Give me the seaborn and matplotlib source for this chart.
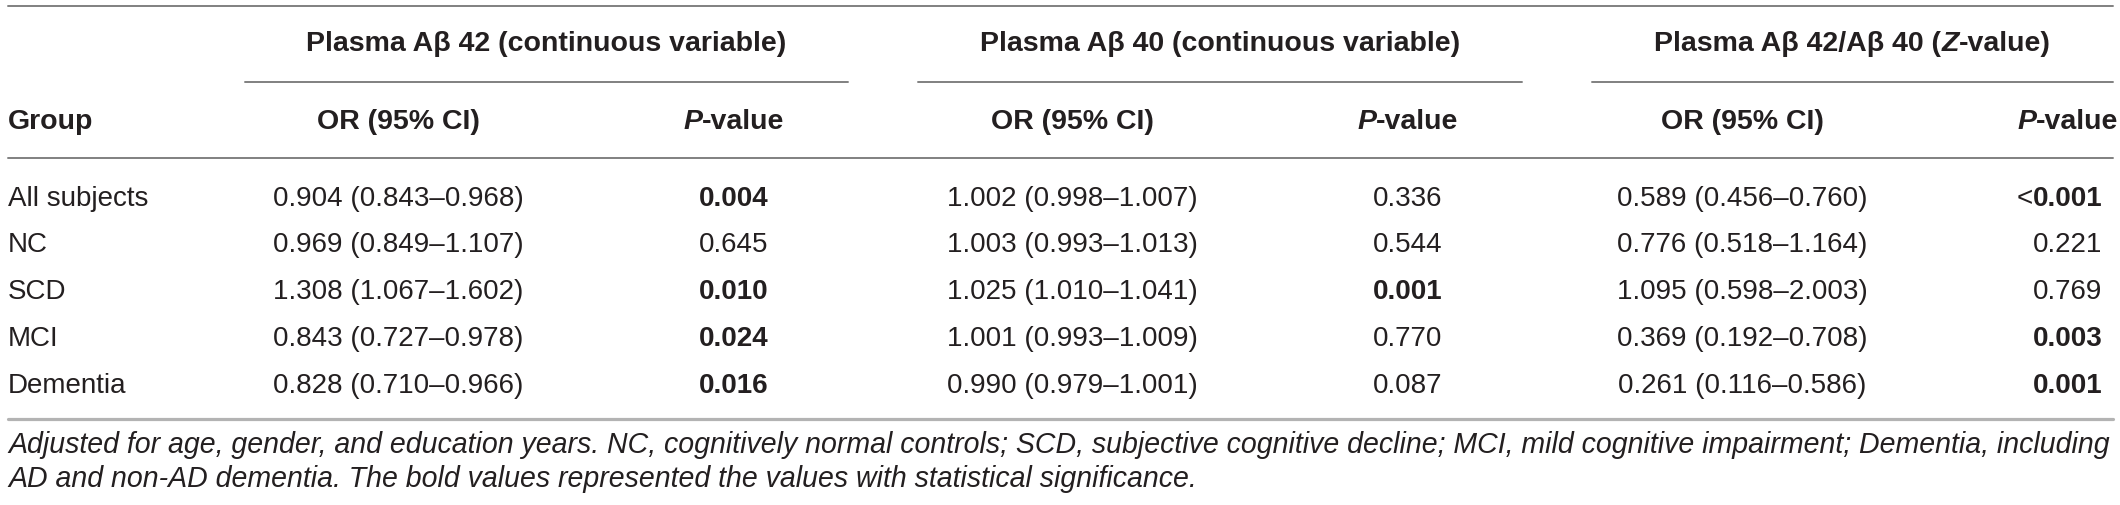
import matplotlib
matplotlib.use("Agg")
import matplotlib.pyplot as plt
import seaborn as sns

# table content
groups = ["All subjects", "NC", "SCD", "MCI", "Dementia"]
ab42_or = ["0.904 (0.843–0.968)", "0.969 (0.849–1.107)", "1.308 (1.067–1.602)",
           "0.843 (0.727–0.978)", "0.828 (0.710–0.966)"]
ab42_p = ["0.004", "0.645", "0.010", "0.024", "0.016"]
ab40_or = ["1.002 (0.998–1.007)", "1.003 (0.993–1.013)", "1.025 (1.010–1.041)",
           "1.001 (0.993–1.009)", "0.990 (0.979–1.001)"]
ab40_p = ["0.336", "0.544", "0.001", "0.770", "0.087"]
ratio_or = ["0.589 (0.456–0.760)", "0.776 (0.518–1.164)", "1.095 (0.598–2.003)",
            "0.369 (0.192–0.708)", "0.261 (0.116–0.586)"]
ratio_p = ["<0.001", "0.221", "0.769", "0.003", "0.001"]

block_titles = [
    [("Plasma Aβ 42 (continuous variable)", "bold", "normal")],
    [("Plasma Aβ 40 (continuous variable)", "bold", "normal")],
    [("Plasma Aβ 42/Aβ 40 (", "bold", "normal"), ("Z", "bold", "italic"),
     ("-value)", "bold", "normal")],
]
footnote = [
    "Adjusted for age, gender, and education years. NC, cognitively normal controls; "
    "SCD, subjective cognitive decline; MCI, mild cognitive impairment; Dementia, including",
    "AD and non-AD dementia. The bold values represented the values with statistical significance.",
]
alpha = 0.05

sns.set_theme(style="white")
plt.rcParams["font.family"] = ["Liberation Sans", "DejaVu Sans"]

TXT = "#231f20"
W, H = 2120, 505
fig = plt.figure(figsize=(W / 100, H / 100), dpi=100)
ax = fig.add_axes([0, 0, 1, 1])
ax.set_xlim(0, W)
ax.set_ylim(H, 0)
ax.axis("off")
renderer = fig.canvas.get_renderer()


def rich_text(x, y, pieces, size, ha="center"):
    """Draw mixed bold/italic pieces side by side, centred (or left) on x."""
    arts, widths = [], []
    for s, w, st in pieces:
        t = ax.text(0, y, s, fontsize=size, fontweight=w, fontstyle=st,
                    va="baseline", ha="left", color=TXT)
        arts.append(t)
        widths.append(t.get_window_extent(renderer=renderer).width)
    total = sum(widths)
    x0 = x - total / 2 if ha == "center" else x
    for t, w in zip(arts, widths):
        t.set_x(x0)
        x0 += w
    return arts


left, right = 8, 2113
or_x = [398, 1072, 1742]
p_x = [734, 1408, 2068]
spans = [(245, 848), (918, 1522), (1592, 2113)]
y_title, y_sub, y_head, y_headline = 51, 82, 129, 158
row_y = [206, 252, 299, 346, 393]
y_bottom = 419
foot_y = [453, 487]
HS, BS = 20.5, 20

# rules
ax.plot([left, right], [6, 6], color="#808080", lw=1.4)
ax.plot([left, right], [y_headline, y_headline], color="#808080", lw=1.4)
ax.plot([left, right], [y_bottom, y_bottom], color="#b3b3b3", lw=2.3)
for a, b in spans:
    ax.plot([a, b], [y_sub, y_sub], color="#808080", lw=1.4)

# headers
for (a, b), pieces in zip(spans, block_titles):
    rich_text((a + b) / 2, y_title, pieces, HS)
ax.text(left, y_head, "Group", fontsize=HS, fontweight="bold", va="baseline",
        ha="left", color=TXT)
for xo, xp in zip(or_x, p_x):
    rich_text(xo, y_head, [("OR (95% CI)", "bold", "normal")], HS)
    rich_text(xp, y_head, [("P", "bold", "italic"), ("-value", "bold", "normal")], HS)

# body
cols = [(ab42_or, ab42_p), (ab40_or, ab40_p), (ratio_or, ratio_p)]
for i, g in enumerate(groups):
    y = row_y[i]
    ax.text(left, y, g, fontsize=BS, va="baseline", ha="left", color=TXT)
    for (ors, ps), xo, xp in zip(cols, or_x, p_x):
        ax.text(xo, y, ors[i], fontsize=BS, va="baseline", ha="center", color=TXT)
        p = ps[i]
        sig = float(p.lstrip("<")) < alpha
        if p.startswith("<"):
            t = ax.text(xp, y, p[1:], fontsize=BS, va="baseline", ha="center",
                        fontweight="bold" if sig else "normal", color=TXT)
            ax.annotate("<", xy=(0, 0.5), xycoords=t, fontsize=BS,
                        va="center", ha="right", color=TXT)
        else:
            ax.text(xp, y, p, fontsize=BS, va="baseline", ha="center",
                    fontweight="bold" if sig else "normal", color=TXT)

# footnote, first line fitted to the table width
fs = 19.0
probe = ax.text(left, foot_y[0], footnote[0], fontsize=fs, fontstyle="italic",
                va="baseline", ha="left", color=TXT)
wpx = probe.get_window_extent(renderer=renderer).width
fs = fs * (right - left) / wpx
probe.set_fontsize(fs)
ax.text(left, foot_y[1], footnote[1], fontsize=fs, fontstyle="italic",
        va="baseline", ha="left", color=TXT)

fig.savefig("out.png", dpi=100, facecolor="white")
